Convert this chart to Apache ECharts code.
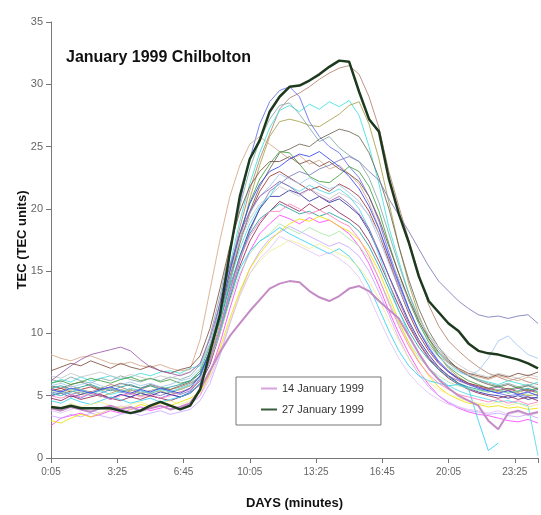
<!DOCTYPE html>
<html>
<head>
<meta charset="utf-8">
<script src="https://cdn.jsdelivr.net/npm/echarts@6/dist/echarts.min.js"></script>
<style>
  html, body { margin: 0; padding: 0; background: #fff; }
  #main { width: 541px; height: 515px; }
</style>
</head>
<body>
<div id="main"></div>
<script>
// minutes after 0:05, one sample every 30 min
var minutes = [0,30,60,90,120,150,180,210,240,270,300,330,360,390,420,450,480,510,540,570,600,630,660,690,720,750,780,810,840,870,900,930,960,990,1020,1050,1080,1110,1140,1170,1200,1230,1260,1290,1320,1350,1380,1410,1440,1470];
var tickLabels = ['0:05', '3:25', '6:45', '10:05', '13:25', '16:45', '20:05', '23:25'];

// highlighted days
var jan14 = [4.0,3.8,4.1,3.9,3.7,4.0,4.2,3.9,4.1,3.8,4.0,4.2,3.9,4.1,4.4,5.5,7.0,8.5,9.8,10.8,11.8,12.7,13.6,14.0,14.2,14.1,13.4,12.9,12.6,13.0,13.6,13.8,13.4,12.6,11.9,11.2,9.8,8.4,7.2,6.3,5.6,5.0,4.6,4.2,3.0,2.3,3.6,3.8,3.5,3.7];
var jan27 = [4.1,4.0,4.2,4.0,4.0,4.0,4.0,3.8,3.6,3.8,4.2,4.5,4.2,3.9,4.2,5.5,8.5,11.5,16.5,21.0,24.0,25.5,27.8,29.0,29.8,29.9,30.3,30.8,31.4,31.9,31.8,29.4,27.2,26.2,22.4,19.6,17.3,14.6,12.6,11.7,10.8,10.2,9.2,8.6,8.4,8.3,8.1,7.9,7.6,7.2];

// the other days of the month
var dayBrown = [5.6,5.4,5.8,5.5,5.3,5.6,5.9,5.7,5.4,5.5,5.8,5.6,5.5,5.7,6.0,6.5,8.5,11.5,15.0,18.5,21.5,24.0,26.0,28.0,28.9,29.3,29.8,30.4,30.9,31.3,31.5,30.8,29.0,26.5,23.0,20.2,17.5,14.8,12.3,10.6,9.4,8.6,7.9,7.3,6.8,6.5,6.2,6.4,6.1,5.9];
var dayCyan = [6.0,6.3,6.1,6.5,6.2,6.4,6.6,6.3,6.5,6.8,6.6,6.9,7.0,6.8,7.2,7.4,9.2,12.0,15.5,19.0,22.0,24.5,26.5,27.9,28.3,27.8,28.4,28.0,28.6,28.2,28.7,27.5,25.0,22.0,18.5,15.8,13.2,11.0,9.5,8.4,7.6,7.0,6.6,6.3,6.1,5.9,6.2,6.0,5.8,6.1];
var dayOlive = [5.2,5.0,5.4,5.1,5.3,4.9,5.2,5.5,5.3,5.0,5.2,5.4,5.1,5.3,5.6,6.2,8.0,10.8,14.0,17.5,20.8,23.5,25.8,27.0,27.2,27.0,26.7,26.6,27.1,27.6,28.3,28.6,26.8,24.0,20.5,17.0,14.0,11.5,9.6,8.2,7.2,6.5,6.0,5.7,5.5,5.3,5.4,5.2,5.0,5.1];
var dayBlue = [5.0,5.3,5.1,4.8,5.2,5.0,4.7,5.1,4.9,5.2,5.0,4.8,5.1,4.9,5.3,6.4,8.8,12.5,16.5,20.5,24.0,26.8,28.6,29.5,29.8,29.0,27.0,25.8,25.0,24.5,23.4,22.5,21.0,19.0,16.5,14.2,12.0,10.2,8.9,7.8,7.0,6.4,6.0,5.7,5.4,5.2,5.0,5.1,4.9,4.8];
var dayGreyTeal = [6.3,6.1,6.5,6.2,6.0,6.4,6.2,6.6,6.3,6.1,6.4,6.2,6.5,6.3,6.6,7.5,9.8,13.0,16.8,20.2,23.2,25.5,27.2,28.3,28.5,27.6,26.5,25.4,25.8,24.9,24.3,23.8,22.5,20.5,18.0,15.5,13.2,11.3,9.8,8.7,7.8,7.1,6.6,6.3,6.0,5.8,6.0,5.7,5.9,5.6];
var dayDarkGrey = [5.8,5.6,5.9,6.1,5.8,5.5,5.7,6.0,5.8,5.6,5.9,5.7,5.5,5.8,6.1,6.8,8.6,11.2,14.2,17.2,19.8,21.8,23.2,24.5,24.8,25.2,25.0,25.6,26.0,26.4,26.2,25.8,24.5,22.5,20.0,17.0,14.3,12.0,10.2,8.9,7.9,7.1,6.6,6.2,5.9,5.7,5.9,5.6,5.8,5.5];
var dayTan = [8.3,8.0,7.8,8.1,8.2,7.9,7.6,7.5,7.7,7.4,7.3,7.5,7.2,7.0,7.1,9.5,13.5,17.5,21.0,23.5,25.2,25.8,25.2,24.6,24.0,24.3,23.6,23.9,23.2,23.5,22.8,22.0,20.5,18.5,16.0,13.8,11.8,10.2,9.0,8.2,7.6,7.1,6.7,6.5,6.3,6.6,6.4,6.2,6.5,6.3];
var dayGreen = [6.0,6.2,5.9,6.1,6.4,6.2,6.0,6.3,6.5,6.2,6.4,6.1,6.3,6.0,6.2,7.0,9.0,11.8,15.0,18.0,20.5,22.4,23.6,24.6,24.5,23.6,22.6,22.2,22.1,22.7,23.4,23.0,21.8,19.8,17.2,14.8,12.6,10.8,9.3,8.2,7.3,6.7,6.2,5.9,5.6,5.8,5.5,5.7,5.4,5.6];
var dayDarkRed = [5.4,5.6,5.3,5.5,5.7,5.4,5.6,5.3,5.5,5.2,5.4,5.6,5.3,5.5,5.8,6.6,8.6,11.4,14.6,17.4,19.6,21.4,22.6,23.0,22.5,22.0,21.5,21.8,21.4,22.0,21.6,21.0,19.8,18.0,15.8,13.6,11.6,9.9,8.6,7.6,6.9,6.4,6.0,5.8,5.6,5.4,5.6,5.3,5.5,5.2];
var daySlate = [5.2,5.4,5.1,5.3,5.0,5.2,5.5,5.3,5.1,5.4,5.2,5.0,5.3,5.1,5.4,6.2,7.8,10.2,13.0,15.8,18.2,20.0,21.4,22.0,22.6,23.0,22.7,23.2,23.5,23.9,24.2,23.8,23.0,22.3,20.8,19.5,18.2,16.8,15.4,14.2,13.4,12.6,12.0,11.5,11.3,11.4,11.2,11.4,11.5,10.8];
var dayNavy = [5.0,5.2,4.9,5.1,5.3,5.0,4.8,5.1,4.9,5.2,5.0,5.3,5.1,4.9,5.2,6.0,7.8,10.4,13.4,16.2,18.4,20.0,21.0,21.0,21.5,21.2,20.6,21.0,20.5,20.8,20.2,19.5,18.2,16.5,14.6,12.8,11.0,9.5,8.3,7.3,6.6,6.0,5.6,5.3,5.1,5.0,4.8,5.0,4.7,4.9];
var dayLightGrey = [6.6,6.4,6.8,6.5,6.7,6.9,6.6,6.4,6.7,6.5,6.3,6.6,6.4,6.7,6.9,7.6,9.2,11.8,14.8,17.4,19.2,20.4,21.0,21.8,21.4,21.0,21.6,21.2,20.8,21.3,20.9,20.4,19.5,18.0,16.2,14.4,12.7,11.2,9.9,8.9,8.1,7.5,7.0,6.7,6.5,6.8,6.6,6.4,6.7,6.5];
var dayMaroon = [4.8,4.6,5.0,4.7,4.9,5.1,4.8,4.6,4.9,4.7,5.0,4.8,4.6,4.9,5.2,5.9,7.5,10.0,12.8,15.4,17.4,18.8,19.8,20.6,20.2,19.8,20.4,19.9,20.3,19.7,19.2,18.6,17.4,15.8,14.0,12.2,10.6,9.2,8.0,7.1,6.4,5.9,5.5,5.2,5.0,4.8,5.0,4.7,4.9,4.6];
var dayTeal = [5.6,5.8,5.5,5.7,5.9,5.6,5.4,5.7,5.9,5.6,5.8,5.5,5.7,5.9,6.2,6.8,8.6,11.0,13.8,16.2,18.0,19.2,19.8,20.4,20.0,19.6,19.8,19.4,19.7,19.3,18.9,18.2,17.0,15.4,13.6,11.8,10.2,8.9,7.9,7.1,6.5,6.0,5.7,5.5,5.3,5.5,5.2,5.4,5.6,5.3];
var dayMagenta = [2.6,3.2,3.4,3.6,3.3,3.5,3.8,3.6,3.9,4.1,3.8,4.0,4.2,4.0,4.3,5.0,6.8,9.2,12.0,14.6,16.6,18.0,18.8,19.5,19.2,18.8,19.3,18.9,19.1,18.6,18.0,17.0,15.6,13.8,11.8,10.0,8.4,7.0,5.9,5.0,4.4,4.0,3.7,3.5,3.4,3.2,3.0,2.9,3.1,2.8];
var dayLavender = [3.4,3.2,3.5,3.3,3.6,3.4,3.2,3.5,3.7,3.4,3.6,3.8,3.5,3.7,3.9,4.6,6.0,8.2,10.8,13.2,15.2,16.6,17.6,18.1,18.6,18.2,17.8,17.4,17.0,17.3,16.9,16.2,15.0,13.3,11.5,9.6,8.0,6.7,5.7,5.0,4.5,4.1,3.8,3.7,3.5,3.6,3.4,3.3,3.5,3.2];
var dayLightGreen = [5.4,5.2,5.5,5.3,5.1,5.4,5.6,5.3,5.5,5.2,5.4,5.6,5.3,5.5,5.8,6.4,7.8,10.0,12.6,14.8,16.4,17.4,18.0,18.8,18.4,18.0,18.5,18.1,17.8,18.2,17.6,17.0,16.0,14.4,12.6,10.8,9.3,8.1,7.2,6.6,6.1,5.8,5.6,5.4,5.3,5.5,5.2,5.4,5.1,5.3];
var dayYellow = [3.0,2.8,3.2,3.5,3.3,3.6,3.9,4.1,3.9,4.3,4.1,4.4,4.2,4.5,4.8,5.3,6.8,8.8,11.2,13.4,15.2,16.4,17.4,18.2,18.8,19.2,19.0,19.4,19.1,18.6,18.2,17.5,16.5,15.0,13.0,11.0,9.2,7.8,6.6,5.7,5.1,4.7,4.4,4.3,4.1,4.2,4.0,4.1,3.9,4.0];
var daySkyCyan = [4.6,4.4,4.8,4.5,4.3,4.6,4.9,4.7,4.4,4.6,4.8,4.5,4.7,4.9,5.2,6.0,7.8,10.2,13.0,15.2,16.6,17.4,17.9,18.5,18.0,17.6,17.2,16.8,16.4,16.8,16.2,15.2,13.8,12.0,10.2,8.6,7.4,6.6,6.2,6.0,5.8,5.9,5.6,3.0,0.6,1.2,null,null,null,null];
var dayPaleBlue = [5.8,6.0,5.7,5.9,6.1,5.8,5.6,5.9,6.1,5.8,6.0,5.7,5.9,6.2,6.4,7.2,9.2,12.0,15.0,17.6,19.6,21.0,21.8,22.8,22.4,22.0,22.5,22.0,21.6,21.9,21.3,20.6,19.4,17.6,15.6,13.6,11.8,10.3,9.1,8.1,7.4,6.9,6.6,7.0,8.0,9.4,9.8,9.0,8.3,8.0];
var dayAqua = [5.2,5.0,5.3,5.5,5.2,5.4,5.1,5.3,5.6,5.4,5.2,5.5,5.3,5.6,5.9,6.6,8.4,11.2,14.2,16.8,18.8,20.2,21.0,22.2,21.8,21.4,21.9,21.5,21.2,21.6,21.0,20.0,18.4,16.3,14.0,11.8,9.9,8.4,7.2,6.4,5.8,5.4,5.1,4.9,4.7,4.5,4.6,4.4,4.2,0.2];
var dayLightYellow = [4.2,4.0,4.4,4.1,4.3,4.5,4.2,4.0,4.3,4.5,4.2,4.4,4.6,4.3,4.6,5.2,6.6,8.6,11.0,13.2,14.8,15.8,16.6,17.0,17.5,17.2,16.8,17.2,16.8,16.4,16.0,15.3,14.2,12.8,11.0,9.4,8.0,6.9,6.1,5.5,5.1,4.8,4.6,4.4,4.3,4.5,4.2,4.4,4.1,4.3];
var dayPaleLilac = [3.8,3.6,3.9,4.1,3.8,3.6,3.9,4.2,4.0,3.7,4.0,4.2,3.9,4.1,4.4,5.0,6.4,8.4,10.8,13.0,14.8,16.0,16.8,17.8,17.4,17.0,16.6,16.2,16.5,16.0,15.4,14.5,13.0,11.2,9.5,8.0,6.8,5.9,5.2,4.7,4.3,4.1,3.9,3.8,3.6,3.8,3.5,3.7,3.4,3.6];
var dayPink = [5.0,4.8,5.1,4.9,5.2,5.0,4.7,5.0,5.2,4.9,5.1,4.8,5.0,5.3,5.5,6.2,7.8,10.4,13.4,16.0,17.8,19.0,19.8,19.8,20.4,20.0,19.6,19.9,19.5,19.0,18.6,17.6,16.2,14.4,12.4,10.6,9.0,7.7,6.7,6.0,5.5,5.1,4.9,4.7,4.5,4.7,4.4,4.6,4.3,4.5];
var dayDarkBrown = [7.0,7.3,7.6,7.4,7.8,7.5,7.2,7.6,7.3,7.1,7.4,7.0,6.8,7.1,7.3,8.2,10.4,13.6,17.0,19.8,21.8,23.0,23.8,23.8,24.2,23.6,23.9,23.4,23.8,23.2,22.8,22.2,21.0,19.2,17.0,14.8,12.8,11.0,9.6,8.5,7.7,7.2,6.8,6.6,6.4,6.7,6.5,6.8,6.6,6.9];
var dayRoyal = [5.5,5.3,5.6,5.4,5.2,5.5,5.7,5.4,5.2,5.5,5.3,5.6,5.4,5.2,5.6,6.6,8.6,11.6,15.0,18.0,20.4,22.0,23.0,23.4,24.0,24.4,24.2,24.6,24.0,23.4,22.6,21.6,20.2,18.4,16.2,14.0,12.0,10.2,8.8,7.7,6.9,6.3,5.9,5.6,5.4,5.2,5.4,5.1,5.3,5.0];
var dayMauve = [6.2,6.8,7.4,7.9,8.3,8.5,8.7,8.9,8.6,7.9,7.3,7.0,6.8,6.6,6.9,7.6,9.6,12.4,15.4,18.0,19.8,21.0,21.6,22.2,21.8,21.2,21.6,21.0,20.6,21.0,20.4,19.6,18.4,16.6,14.6,12.6,10.8,9.3,8.1,7.2,6.6,6.2,5.9,5.7,5.5,5.7,5.4,5.6,5.3,5.5];

var otherDays = [
  [dayBrown, '#b4826e'], [dayCyan, '#3ee0e0'], [dayOlive, '#a6a04a'], [dayBlue, '#6070ee'],
  [dayGreyTeal, '#84a8a8'], [dayDarkGrey, '#6e6656'], [dayTan, '#d2a88a'], [dayGreen, '#40a040'],
  [dayDarkRed, '#a03434'], [daySlate, '#7a7ab8'], [dayNavy, '#2830a0'], [dayLightGrey, '#c8c8c8'],
  [dayMaroon, '#902a55'], [dayTeal, '#20a0a0'], [dayMagenta, '#ff44ff'], [dayLavender, '#c8a8ff'],
  [dayLightGreen, '#a8e6a8'], [dayYellow, '#f0e000'], [daySkyCyan, '#30d0f0'], [dayPaleBlue, '#a0c8f0'],
  [dayAqua, '#50d8e8'], [dayLightYellow, '#eeee90'], [dayPaleLilac, '#e0c4f0'], [dayPink, '#ff80c0'],
  [dayDarkBrown, '#805040'], [dayRoyal, '#3444f0'], [dayMauve, '#9a5aa8']
];

function pairs(vals) {
  return minutes.map(function (m, i) { return [m, vals[i]]; });
}

var series = otherDays.map(function (d, k) {
  return {
    name: 'day' + k,
    type: 'line',
    data: pairs(d[0]),
    showSymbol: false,
    connectNulls: false,
    lineStyle: { width: 1, color: d[1], opacity: 0.85 },
    itemStyle: { color: d[1] }
  };
});
series.push({
  name: '14 January 1999', type: 'line', data: pairs(jan14), showSymbol: false,
  lineStyle: { width: 2, color: '#c48cc6' }, itemStyle: { color: '#d8a0dc' }
});
series.push({
  name: '27 January 1999', type: 'line', data: pairs(jan27), showSymbol: false,
  lineStyle: { width: 2.5, color: '#1e3a1e' }, itemStyle: { color: '#3a5a3a' }
});

var chart = echarts.init(document.getElementById('main'));
chart.setOption({
  animation: false,
  backgroundColor: '#fff',
  textStyle: { fontFamily: 'Liberation Sans, Arial, sans-serif' },
  title: {
    text: 'January 1999 Chilbolton',
    left: 61, top: 45,
    textStyle: { fontSize: 16, fontWeight: 'bold', color: '#111' }
  },
  legend: {
    data: ['14 January 1999', '27 January 1999'],
    orient: 'vertical',
    left: 236, top: 377,
    padding: [6, 17, 10, 25],
    itemGap: 10,
    itemWidth: 16, itemHeight: 2,
    icon: 'rect',
    borderColor: '#777', borderWidth: 1,
    backgroundColor: '#fff',
    textStyle: { fontSize: 11, color: '#333' }
  },
  grid: { left: 51, right: 0, top: 22, bottom: 53 },
  xAxis: {
    type: 'value',
    min: 0, max: 1470, interval: 200,
    name: 'DAYS (minutes)',
    nameLocation: 'middle', nameGap: 39,
    nameMoveOverlap: false,
    nameTextStyle: { fontSize: 13, fontWeight: 'bold', color: '#111' },
    axisLine: { lineStyle: { color: '#777' } },
    axisTick: { length: 5, lineStyle: { color: '#777' } },
    axisLabel: {
      fontSize: 10, color: '#666', margin: 9,
      formatter: function (v) { return v % 200 === 0 ? tickLabels[v / 200] : ''; }
    },
    splitLine: { show: false }
  },
  yAxis: {
    type: 'value',
    min: 0, max: 35, interval: 5,
    name: 'TEC (TEC units)',
    nameLocation: 'middle', nameGap: 22,
    nameMoveOverlap: false,
    nameTextStyle: { fontSize: 13, fontWeight: 'bold', color: '#111' },
    axisLine: { show: true, lineStyle: { color: '#777' } },
    axisTick: { show: true, length: 5, lineStyle: { color: '#777' } },
    axisLabel: { fontSize: 11, color: '#666', margin: 8 },
    splitLine: { show: false }
  },
  series: series
});
</script>
</body>
</html>
